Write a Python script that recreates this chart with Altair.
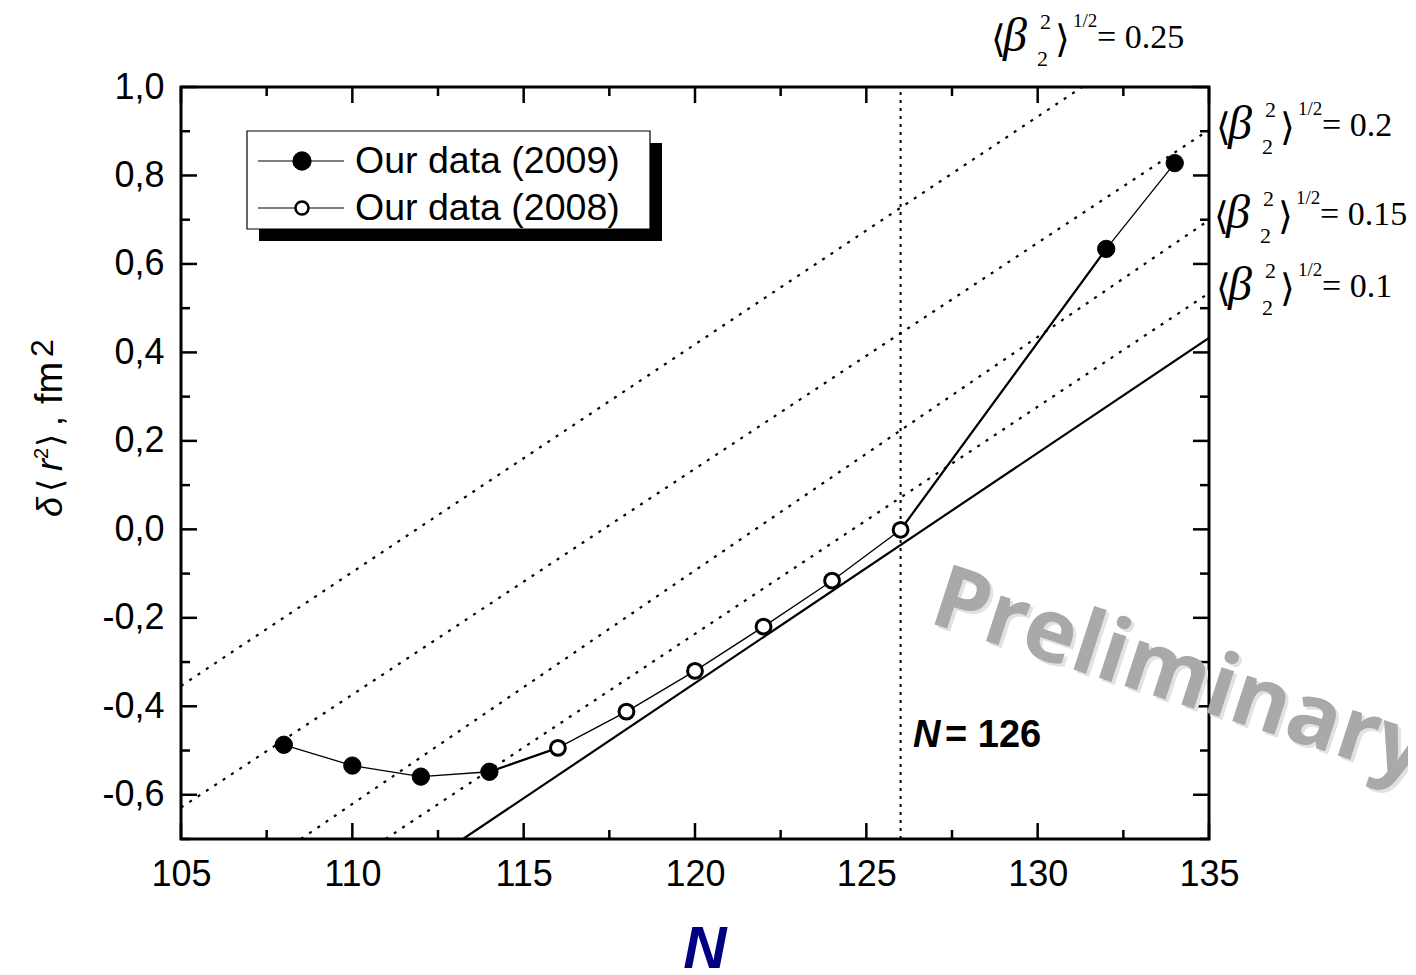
import altair as alt
import pandas as pd

# ---------------- data ----------------
N_vals = [108, 110, 112, 114, 116, 118, 120, 122, 124, 126, 132, 134]
dr2_vals = [-0.487, -0.534, -0.559, -0.548, -0.494, -0.412, -0.320, -0.220, -0.116, -0.001, 0.634, 0.828]
year_vals = ["2009", "2009", "2009", "2009", "2008", "2008", "2008", "2008", "2008", "2008", "2009", "2009"]

# thicker connecting segments (pairs of indices in the arrays above)
thick_pairs = [(3, 4), (9, 10)]

# straight reference line (solid)
ref_N = [113.23, 135.0]
ref_y = [-0.70, 0.433]

# constant-deformation lines (dotted)
beta_names = ["0.25", "0.2", "0.15", "0.1"]
beta_N0 = [105.0, 105.0, 108.5, 110.97]
beta_y0 = [-0.354, -0.629, -0.70, -0.70]
beta_N1 = [131.3, 135.0, 135.0, 135.0]
beta_y1 = [1.0, 0.903, 0.699, 0.534]

magic_N = 126

x_major = [105, 110, 115, 120, 125, 130, 135]
x_minor = [107.5, 112.5, 117.5, 122.5, 127.5, 132.5]
y_major = [-0.6, -0.4, -0.2, 0.0, 0.2, 0.4, 0.6, 0.8, 1.0]
y_minor = [-0.7, -0.5, -0.3, -0.1, 0.1, 0.3, 0.5, 0.7, 0.9]

legend_labels = ["Our data (2009)", "Our data (2008)"]

# ---------------- layout ----------------
W, H = 1028, 752
PL, PT = 173, 79
SANS = "Liberation Sans"
SERIF = "Liberation Serif"
BRK = "DejaVu Sans"

xs = alt.Scale(domain=[105, 135], nice=False, zero=False)
ys = alt.Scale(domain=[-0.7, 1.0], nice=False, zero=False)

xaxis = alt.Axis(values=x_major, title=None, grid=False, ticks=False, domain=False,
                 labelFont=SANS, labelFontSize=36, labelColor="black",
                 labelPadding=18, labelFlush=False, labelOverlap=False, format="d")
yaxis = alt.Axis(values=y_major, title=None, grid=False, ticks=False, domain=False,
                 labelFont=SANS, labelFontSize=36, labelColor="black",
                 labelPadding=17, labelFlush=False, labelOverlap=False,
                 labelExpr="replace(replace(format(datum.value, '.1f'), '.', ','), '\u2212', '-')")


def X(f):
    return alt.X(f, type="quantitative", scale=xs, axis=xaxis)


def Y(f):
    return alt.Y(f, type="quantitative", scale=ys, axis=yaxis)


pts = pd.DataFrame({"N": N_vals, "y": dr2_vals, "year": year_vals})

rows = []
for k, (a, b) in enumerate(thick_pairs):
    rows.append({"N": N_vals[a], "y": dr2_vals[a], "seg": k})
    rows.append({"N": N_vals[b], "y": dr2_vals[b], "seg": k})
thick = pd.DataFrame(rows)

ref = pd.DataFrame({"N": ref_N, "y": ref_y})

brows = []
for name, n0, y0, n1, y1 in zip(beta_names, beta_N0, beta_y0, beta_N1, beta_y1):
    brows.append({"N": n0, "y": y0, "beta": name})
    brows.append({"N": n1, "y": y1, "beta": name})
beta_df = pd.DataFrame(brows)

vline = pd.DataFrame({"N": [magic_N], "y": [-0.7], "y2": [1.0]})

layers = []

# dotted beta lines
layers.append(alt.Chart(beta_df).mark_line(color="black", strokeWidth=2.2, strokeDash=[3, 7], clip=True)
              .encode(x=X("N"), y=Y("y"), detail="beta:N"))
# vertical dotted at N=126
layers.append(alt.Chart(vline).mark_rule(color="black", strokeWidth=2, strokeDash=[3, 5])
              .encode(x=X("N"), y=Y("y"), y2="y2"))
# solid reference line
layers.append(alt.Chart(ref).mark_line(color="black", strokeWidth=2.2, clip=True)
              .encode(x=X("N"), y=Y("y")))
# thin connecting line
layers.append(alt.Chart(pts).mark_line(color="black", strokeWidth=1.3)
              .encode(x=X("N"), y=Y("y"), order="N:Q"))
# thicker segments
layers.append(alt.Chart(thick).mark_line(color="black", strokeWidth=2.2)
              .encode(x=X("N"), y=Y("y"), detail="seg:N"))
# markers
layers.append(alt.Chart(pts).transform_filter("datum.year == '2009'")
              .mark_point(shape="circle", filled=True, fill="black", stroke="black", strokeWidth=1, size=300, opacity=1)
              .encode(x=X("N"), y=Y("y")))
layers.append(alt.Chart(pts).transform_filter("datum.year == '2008'")
              .mark_point(shape="circle", filled=True, fill="white", stroke="black", strokeWidth=3, size=220, opacity=1)
              .encode(x=X("N"), y=Y("y")))


# inward ticks on all four sides
def tick_layers(vals, L, horizontal):
    df = pd.DataFrame({"v": vals})
    out = []
    if horizontal:
        out.append(alt.Chart(df).mark_rule(color="black", strokeWidth=2.5)
                   .encode(x=X("v"), y=alt.value(H), y2=alt.value(H - L)))
        out.append(alt.Chart(df).mark_rule(color="black", strokeWidth=2.5)
                   .encode(x=X("v"), y=alt.value(0), y2=alt.value(L)))
    else:
        out.append(alt.Chart(df).mark_rule(color="black", strokeWidth=2.5)
                   .encode(y=Y("v"), x=alt.value(0), x2=alt.value(L)))
        out.append(alt.Chart(df).mark_rule(color="black", strokeWidth=2.5)
                   .encode(y=Y("v"), x=alt.value(W), x2=alt.value(W - L)))
    return out


layers += tick_layers(x_major, 16, True)
layers += tick_layers(x_minor, 9, True)
layers += tick_layers(y_major, 16, False)
layers += tick_layers(y_minor, 9, False)

dummy = pd.DataFrame({"a": [0]})


def page(px, py):
    return px - 181, py - 87


# legend (shadow + box)
sx0, sy0 = page(259, 143)
sx1, sy1 = page(662, 241)
layers.append(alt.Chart(dummy).mark_rect(fill="black")
              .encode(x=alt.value(sx0), x2=alt.value(sx1), y=alt.value(sy0), y2=alt.value(sy1)))
bx0, by0 = page(247, 131)
bx1, by1 = page(650, 229)
layers.append(alt.Chart(dummy).mark_rect(fill="white", stroke="black", strokeWidth=1.2)
              .encode(x=alt.value(bx0), x2=alt.value(bx1), y=alt.value(by0), y2=alt.value(by1)))
for i, (lab, ly_page) in enumerate(zip(legend_labels, [161, 208])):
    lx0, ly = page(258, ly_page)
    lx1, _ = page(344, ly_page)
    mx, _ = page(302, ly_page)
    tx, _ = page(355, ly_page)
    layers.append(alt.Chart(dummy).mark_rule(color="black", strokeWidth=1.2)
                  .encode(x=alt.value(lx0), x2=alt.value(lx1), y=alt.value(ly)))
    if i == 0:
        layers.append(alt.Chart(dummy).mark_point(shape="circle", filled=True, fill="black", stroke="black",
                                                  size=300, opacity=1)
                      .encode(x=alt.value(mx), y=alt.value(ly)))
    else:
        layers.append(alt.Chart(dummy).mark_point(shape="circle", filled=True, fill="white", stroke="black",
                                                  strokeWidth=2.5, size=170, opacity=1)
                      .encode(x=alt.value(mx), y=alt.value(ly)))
    layers.append(alt.Chart(dummy).mark_text(text=lab, font=SANS, fontSize=37.5, align="left",
                                             baseline="middle", color="black", dy=1)
                  .encode(x=alt.value(tx), y=alt.value(ly)))


def text_piece(txt, px, py, size, font=SANS, style="normal", weight="normal", color="black",
               angle=0, align="left", baseline="alphabetic", opacity=1):
    x, y = page(px, py)
    kw = dict(text=txt, font=font, fontSize=size, fontStyle=style, fontWeight=weight,
              color=color, align=align, baseline=baseline, opacity=opacity)
    if angle:
        kw["angle"] = angle
    return alt.Chart(dummy).mark_text(**kw).encode(x=alt.value(x), y=alt.value(y))


# beta labels
beta_anchor = [(993, 48), (1218, 136), (1216, 225), (1218, 297)]
for name, (ax, ay) in zip(beta_names, beta_anchor):
    layers.append(text_piece("\u27e8", ax - 2, ay + 4, 38, font=BRK))
    layers.append(text_piece("\u03b2", ax + 10, ay + 3, 48, font=SERIF, style="italic"))
    layers.append(text_piece("2", ax + 47, ay - 19, 22, font=SERIF))
    layers.append(text_piece("2", ax + 44, ay + 18, 22, font=SERIF))
    layers.append(text_piece("\u27e9", ax + 62, ay + 4, 38, font=BRK))
    layers.append(text_piece("1/2", ax + 80, ay - 21, 19, font=SERIF))
    layers.append(text_piece("= " + name, ax + 104, ay, 34, font=SERIF))

# N = 126 annotation
layers.append(text_piece("N", 913, 747, 38, style="italic", weight="bold"))
layers.append(text_piece("= 126", 945, 747, 38, weight="bold"))

# x-axis title
layers.append(text_piece("N", 705, 968, 60, style="italic", weight="bold", color="#000080", align="center"))

# y-axis title (rotated)
yt = [("\u03b4", 517, 36, "italic", 62, SANS), ("\u27e8", 492, 34, "normal", 62, BRK),
      ("r", 471, 36, "italic", 62, SANS), ("2", 459, 20, "normal", 48, SANS),
      ("\u27e9", 447, 34, "normal", 62, BRK), (",", 426, 36, "normal", 62, SANS),
      ("fm", 404, 38, "normal", 62, SANS), ("2", 357, 32, "normal", 53, SANS)]
for txt, py, size, style, bx, fnt in yt:
    layers.append(text_piece(txt, bx, py, size, font=fnt, style=style, angle=270))

# watermark
layers.append(text_piece("Preliminary", 930, 625, 88, font="Open Sans", weight="bold",
                         color="#e2e2e2", angle=18))
layers.append(text_piece("Preliminary", 927, 622, 88, font="Open Sans", weight="bold",
                         color="#a9a9a9", angle=18))

chart = alt.layer(*layers).properties(
    width=W, height=H,
    autosize=alt.AutoSizeParams(type="none"),
    padding={"left": PL, "top": PT, "right": 199, "bottom": 134},
).configure(background="white").configure_view(stroke="black", strokeWidth=3)

chart.save("out.html", embed_options={"renderer": "svg", "actions": False})
